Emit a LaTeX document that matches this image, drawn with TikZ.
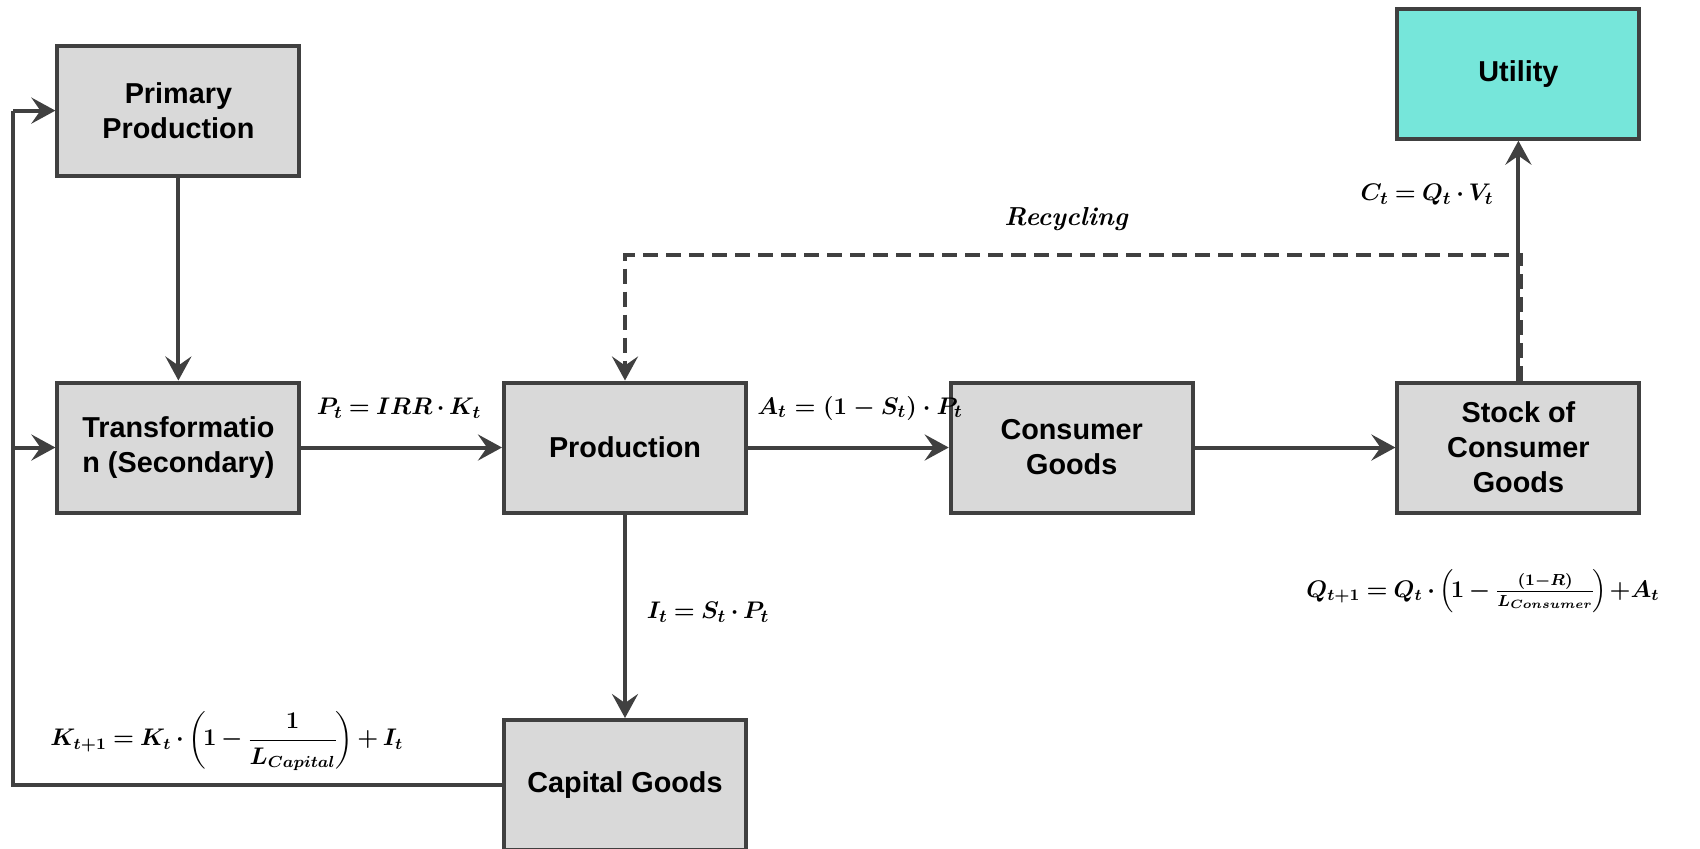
\documentclass[tikz,border=0pt]{standalone}
\usepackage{amsmath}
\usepackage{fontspec}
\newfontfamily\boxfont{Liberation Sans}
\usetikzlibrary{arrows.meta,calc}
\definecolor{edgegray}{HTML}{404040}
\definecolor{boxgray}{HTML}{D9D9D9}
\definecolor{utilcyan}{HTML}{76E6DA}
\newcommand\tightmath{\thickmuskip=4mu\relax\medmuskip=3mu\relax\thinmuskip=2mu\relax}
\begin{document}
\begin{tikzpicture}[x=0.5pt,y=-0.5pt,
  blk/.style={draw=edgegray, line width=2pt, fill=boxgray, minimum width=121pt, minimum height=65pt,
    inner sep=0pt, align=center, font=\boxfont\bfseries\fontsize{14.4}{17.5}\selectfont, text=black},
  flow/.style={draw=edgegray, line width=2pt, -{Stealth[length=12pt,width=13pt,inset=4.5pt]}},
  plainline/.style={draw=edgegray, line width=2pt},
  recyc/.style={draw=edgegray, line width=2pt, dash pattern=on 7.5pt off 4pt, -{Stealth[length=12pt,width=13pt,inset=4.5pt]}},
  eq/.style={font=\fontsize{13}{15}\selectfont\boldmath, inner sep=1pt},
  smalleq/.style={font=\fontsize{12.2}{15}\selectfont\boldmath, inner sep=1pt},
  tighteq/.style={font=\fontsize{12}{15}\selectfont\boldmath, inner sep=1pt},
  tinyeq/.style={font=\fontsize{11.6}{15}\selectfont\boldmath, inner sep=1pt}
]
\useasboundingbox (0,0) rectangle (1700,848);
% boxes
\node[blk] (prim)  at (178.4,110.6) {Primary\\Production};
\node[blk] (trans) at (178.4,447.5) {Transformatio\\n (Secondary)};
\node[blk] (prod)  at (625,447.5) {Production};
\node[blk] (cons)  at (1071.7,447.5) {Consumer\\Goods};
\node[blk] (stock) at (1518.4,447.5) {Stock of\\Consumer\\Goods};
\node[blk, fill=utilcyan] (util) at (1518.4,73.7) {Utility};
\node[blk] (cap)   at (625,785) {Capital Goods};
% coordinates
\coordinate (lb) at (13,785);
\coordinate (lt) at (13,110.6);
\coordinate (lm) at (13,447.5);
\coordinate (rtop) at (1521,255);
\coordinate (ltop) at (625,255);
% connectors
\draw[flow] (prim) -- (trans);
\draw[flow] (trans) -- (prod);
\draw[flow] (prod) -- (cons);
\draw[flow] (cons) -- (stock);
\draw[flow] (stock) -- (util);
\draw[flow] (prod) -- (cap);
\draw[plainline] (cap.west) -- (lb) -- (lt);
\draw[flow] (lt) -- (prim.west);
\draw[flow] (lm) -- (trans.west);
\draw[recyc] (stock.north -| rtop) -- (rtop) -- (ltop) -- (prod.north);
% labels
\node[smalleq] (lp) at (399,408) {$\tightmath P_t = IRR \cdot K_t$};
\node[eq] (la) at (860,408) {$A_t = (1 - S_t)\cdot P_t$};
\node[smalleq] (li) at (708,612) {$\tightmath I_t = S_t \cdot P_t$};
\node[tighteq, anchor=west] (lk) at (48,741) {$\tightmath K_{t+1} = K_t \cdot \left(\!1 - \dfrac{1}{L_{Capital}}\!\right) + I_t$};
\node[smalleq] (lc) at (1427,195) {$\tightmath C_t = Q_t \cdot V_t$};
\node[eq, font=\fontsize{13}{15}\selectfont\bfseries\itshape] (lr) at (1066,219) {Recycling};
\node[tinyeq, anchor=east] (lq) at (1662,591) {$\tightmath Q_{t+1} = Q_t \cdot \left(\!1 - \frac{(1-R)}{L_{Consumer}}\!\right){+}A_t$};
\end{tikzpicture}
\end{document}
